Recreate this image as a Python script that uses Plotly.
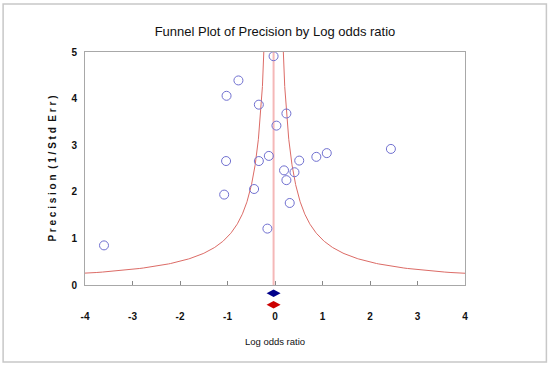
import numpy as np
import plotly.graph_objects as go

# Study points: log odds ratio vs precision (1/SE)
log_or = [-3.60, -1.02, -0.77, -0.34, -0.03, 0.03, -1.03, -0.34, -0.13, -1.07, -0.44,
          -0.16, 0.19, 0.24, 0.24, 0.31, 0.41, 0.51, 0.87, 1.09, 2.44]
precision = [0.85, 4.06, 4.39, 3.87, 4.91, 3.42, 2.66, 2.66, 2.77, 1.94, 2.06,
             1.21, 2.46, 2.25, 3.68, 1.76, 2.42, 2.67, 2.75, 2.83, 2.92]

# Summary effect and funnel half-width constant
summary_effect = -0.03
funnel_k = 1.0
summary_colors = ["#00008b", "#cc0000"]

x_ticks = [-4, -3, -2, -1, 0, 1, 2, 3, 4]
y_ticks = [0, 1, 2, 3, 4, 5]

font_fam = "Liberation Sans Narrow, Arial Narrow, Liberation Sans, Arial"

W, H = 550, 367
L, R, T, B = 84.5, 85, 52, 82
PW, PH = W - L - R, H - T - B

prec_curve = np.linspace(0.2, 6, 600)
left_x = summary_effect - funnel_k / prec_curve
right_x = summary_effect + funnel_k / prec_curve

fig = go.Figure()
fig.add_trace(go.Scatter(x=left_x, y=prec_curve, mode="lines",
                         line=dict(color="#dc6b66", width=1), hoverinfo="skip"))
fig.add_trace(go.Scatter(x=right_x, y=prec_curve, mode="lines",
                         line=dict(color="#dc6b66", width=1), hoverinfo="skip"))
fig.add_trace(go.Scatter(x=[summary_effect, summary_effect], y=[0, 5], mode="lines",
                         line=dict(color="#f5b8b8", width=2), hoverinfo="skip"))
fig.add_trace(go.Scatter(x=log_or, y=precision, mode="markers",
                         marker=dict(symbol="circle-open", size=9, color="#7070d0",
                                     line=dict(width=1, color="#7070d0"))))


def py(pix_y):
    return (H - B - pix_y) / PH


def diamond(cx, cy_pix, half_w_pix, half_h_pix, color):
    dx = half_w_pix * 8 / PW
    y0 = py(cy_pix)
    dy = half_h_pix / PH
    path = (f"M {cx - dx},{y0} L {cx},{y0 + dy} L {cx + dx},{y0} "
            f"L {cx},{y0 - dy} Z")
    return dict(type="path", xref="x", yref="paper", path=path,
                fillcolor=color, line=dict(width=0))


shapes = [
    diamond(summary_effect, 293.3, 7, 3.8, summary_colors[0]),
    diamond(summary_effect, 304.7, 7, 3.8, summary_colors[1]),
    dict(type="rect", xref="paper", yref="paper",
         x0=(2.5 - L) / PW, x1=(546.5 - L) / PW,
         y0=py(362), y1=py(4),
         line=dict(color="#c8c8c8", width=1.5), layer="below"),
]

fig.update_layout(
    width=W, height=H,
    margin=dict(l=L, r=R, t=T, b=B, autoexpand=False),
    paper_bgcolor="white", plot_bgcolor="white",
    showlegend=False,
    title=dict(text="Funnel Plot of Precision by Log odds ratio",
               x=0.5, xanchor="center", y=1 - 31 / H, yanchor="middle",
               font=dict(family=font_fam, size=13, color="#111")),
    xaxis=dict(range=[-4, 4], tickvals=x_ticks, ticktext=[str(v) for v in x_ticks],
               showgrid=False, zeroline=False, showline=True, linecolor="#a8a8a8",
               linewidth=1, mirror=True, ticks="inside", ticklen=4, tickcolor="#888",
               ticklabelstandoff=22, automargin=False,
               tickfont=dict(family=font_fam, size=10, color="#111", weight="bold"),
               title=dict(text="Log odds ratio", standoff=17,
                          font=dict(family=font_fam, size=9.5, color="#111"))),
    yaxis=dict(range=[0, 5], tickvals=y_ticks, ticktext=[str(v) for v in y_ticks],
               showgrid=False, zeroline=False, showline=True, linecolor="#a8a8a8",
               linewidth=1, mirror=True, ticks="", ticklabelstandoff=5, automargin=False,
               tickfont=dict(family=font_fam, size=10, color="#111", weight="bold"),
               title=dict(text="P r e c i s i o n  ( 1 / S t d  E r r )", standoff=12,
                          font=dict(family=font_fam, size=10, color="#111", weight="bold"))),
    shapes=shapes,
)

fig.write_html("out.html", config={"displayModeBar": False},
               post_script="document.body.style.margin='0px';")
